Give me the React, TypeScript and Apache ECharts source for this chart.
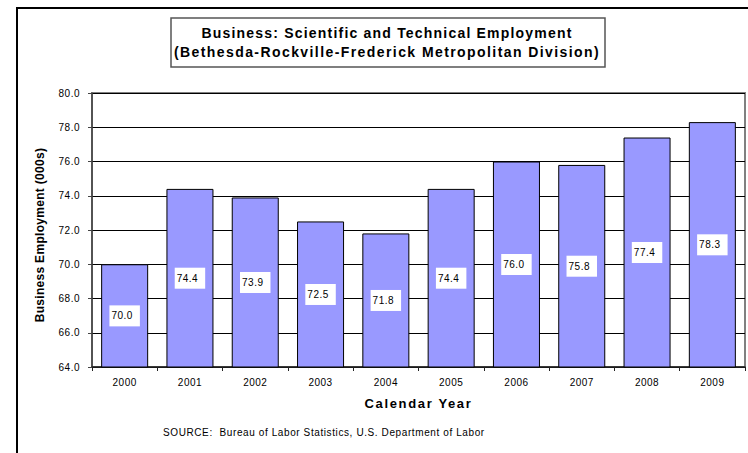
import React, { useEffect, useRef } from "react";
import * as echarts from "echarts";

const years = ["2000", "2001", "2002", "2003", "2004", "2005", "2006", "2007", "2008", "2009"];
const employment = [70.0, 74.4, 73.9, 72.5, 71.8, 74.4, 76.0, 75.8, 77.4, 78.3];
const titleLines = [
  "Business: Scientific and Technical Employment",
  "(Bethesda-Rockville-Frederick Metropolitan Division)",
];
const yAxisName = "Business Employment (000s)";
const xAxisName = "Calendar Year";
const sourceText = "SOURCE:  Bureau of Labor Statistics, U.S. Department of Labor";

const FONT = "Arial, 'Liberation Sans', sans-serif";

function spacingFor(s: string): number {
  if (s === titleLines[0]) return 1.2;
  if (s === titleLines[1]) return 1.42;
  if (s === xAxisName) return 1.65;
  if (s === yAxisName) return 0.3;
  if (s.startsWith("SOURCE")) return 0.6;
  return 0.5;
}

export default function App() {
  const ref = useRef<HTMLDivElement>(null);

  useEffect(() => {
    const chart = echarts.init(ref.current!, null, { renderer: "svg" });

    const applySpacing = () => {
      const root = ref.current;
      if (!root) return;
      root.querySelectorAll("text").forEach((t) => {
        const s = (t.textContent || "").trim();
        const ls = spacingFor(s) + "px";
        if ((t as SVGTextElement).style.letterSpacing !== ls) {
          (t as SVGTextElement).style.letterSpacing = ls;
        }
      });
    };

    chart.on("finished", applySpacing);
    chart.on("rendered", applySpacing);

    chart.setOption({
      animation: false,
      backgroundColor: "#ffffff",
      title: [
        {
          text: titleLines.join("\n"),
          left: 387,
          top: 23,
          textAlign: "center",
          padding: 0,
          textStyle: {
            fontFamily: FONT,
            fontSize: 14,
            fontWeight: "bold",
            color: "#000",
            lineHeight: 19,
          },
        },
        {
          text: sourceText,
          left: 163,
          top: 427,
          padding: 0,
          textStyle: {
            fontFamily: FONT,
            fontSize: 10,
            fontWeight: "normal",
            color: "#000",
          },
        },
      ],
      graphic: [
        {
          type: "rect",
          shape: { x: 17, y: 8, width: 780, height: 480 },
          style: { fill: "none", stroke: "#000", lineWidth: 2 },
          silent: true,
          z: -1,
        },
        {
          type: "rect",
          shape: { x: 171, y: 18, width: 434, height: 49 },
          style: { fill: "none", stroke: "#555", lineWidth: 1.5 },
          silent: true,
        },
      ],
      grid: {
        left: 92,
        top: 93,
        width: 653,
        height: 274,
        show: true,
        borderColor: "#808080",
        borderWidth: 2,
        backgroundColor: "transparent",
        containLabel: false,
      },
      xAxis: {
        type: "category",
        data: years,
        name: xAxisName,
        nameLocation: "middle",
        nameGap: 30,
        nameTextStyle: { fontFamily: FONT, fontSize: 13, fontWeight: "bold", color: "#000" },
        axisLine: { show: true, lineStyle: { color: "#222", width: 1.5 } },
        axisTick: { show: true, inside: false, length: 4, alignWithLabel: false, lineStyle: { color: "#222" } },
        axisLabel: { fontFamily: FONT, fontSize: 10, color: "#000", margin: 10 },
        splitLine: { show: false },
      },
      yAxis: {
        type: "value",
        min: 64,
        max: 80,
        interval: 2,
        name: yAxisName,
        nameLocation: "middle",
        nameGap: 46,
        nameRotate: 90,
        nameTextStyle: {
          fontFamily: FONT,
          fontSize: 12,
          fontWeight: "bold",
          color: "#000",
          padding: [0, 10, 0, 0],
        },
        axisLine: { show: true, lineStyle: { color: "#444", width: 1.5 } },
        axisTick: { show: true, inside: false, length: 4, lineStyle: { color: "#444" } },
        axisLabel: {
          fontFamily: FONT,
          fontSize: 10,
          color: "#000",
          margin: 12,
          formatter: (v: number) => v.toFixed(1),
        },
        splitLine: { show: true, lineStyle: { color: "#000", width: 1 } },
      },
      series: [
        {
          type: "bar",
          data: employment,
          barCategoryGap: "28%",
          itemStyle: { color: "#9999FF", borderColor: "#000", borderWidth: 1 },
          label: {
            show: true,
            position: "inside",
            formatter: (p: any) => Number(p.value).toFixed(1),
            fontFamily: FONT,
            fontSize: 10,
            color: "#000",
            backgroundColor: "#fff",
            padding: [6, 8, 5, 3],
          },
        },
      ],
    });

    applySpacing();
    const raf = requestAnimationFrame(applySpacing);
    const t1 = window.setTimeout(applySpacing, 50);
    const t2 = window.setTimeout(applySpacing, 300);

    return () => {
      cancelAnimationFrame(raf);
      window.clearTimeout(t1);
      window.clearTimeout(t2);
      chart.dispose();
    };
  }, []);

  return (
    <div
      id="chart"
      ref={ref}
      style={{ position: "fixed", left: 0, top: 0, width: 748, height: 453, background: "#fff" }}
    />
  );
}
